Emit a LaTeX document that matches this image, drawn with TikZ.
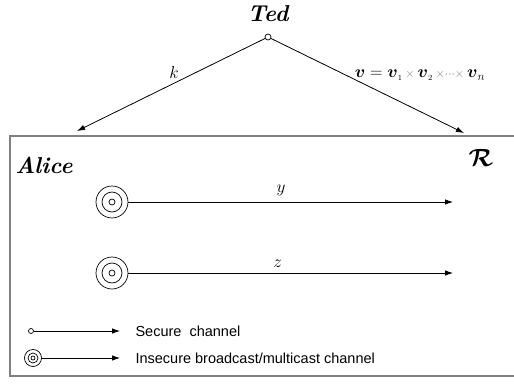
\documentclass[tikz,border=0pt]{standalone}
\usepackage{amsmath}
\usepackage{fontspec}
\newfontfamily\legendfont{Liberation Sans}
\usetikzlibrary{arrows.meta}
\tikzset{
  conn/.style={draw=black, line width=0.8pt, -{Latex[length=8pt,width=5.5pt]}},
  frame/.style={draw=gray, line width=1.6pt},
  dot/.style={circle, draw=black, line width=0.7pt, fill=white, inner sep=0pt, minimum size=6pt},
  ring/.style={circle, draw=black, line width=0.7pt, inner sep=0pt},
  lbl/.style={font=\fontsize{17}{20}\selectfont},
  actor/.style={font=\fontsize{23}{26}\selectfont\itshape\bfseries},
  legend/.style={font=\legendfont\fontsize{14.5}{17}\selectfont, anchor=west}
}
\begin{document}
\begin{tikzpicture}[x=1pt,y=-1pt]
\useasboundingbox (0,0) rectangle (514,383);
% frame (open on the right)
\draw[frame] (514,136) -- (10,136) -- (10,376) -- (514,376);
% Ted
\node[actor] (ted) at (268,14) {Ted};
\node[dot] (tedsrc) at (268,37) {};
\coordinate (alicein) at (77,131);
\coordinate (rin) at (464,133);
\draw[conn] (tedsrc) -- (alicein);
\draw[conn] (tedsrc) -- (rin);
\node[lbl] (k) at (174,72) {$k$};
\node[lbl] (v) at (420,75) {$\boldsymbol{v} = \boldsymbol{v}_{\scriptscriptstyle 1} \,{\color{gray}\scriptstyle\times}\, \boldsymbol{v}_{\scriptscriptstyle 2} \,{\color{gray}\scriptstyle\times\cdots\times}\, \boldsymbol{v}_{n}$};
% parties
\node[actor] (alice) at (44,165) {Alice};
\node[font=\fontsize{28}{30}\selectfont] (r) at (481,158) {$\boldsymbol{\mathcal{R}}$};
% y channel
\node[ring, minimum size=32pt] (y1) at (112,202) {};
\node[ring, minimum size=20pt] at (112,202) {};
\node[ring, minimum size=6pt] at (112,202) {};
\coordinate (yend) at (453,202);
\draw[conn] (y1.east) -- (yend) node[pos=0.47, lbl, above=2pt] (ylab) {$y$};
% z channel
\node[ring, minimum size=32pt] (z1) at (112,273) {};
\node[ring, minimum size=20pt] at (112,273) {};
\node[ring, minimum size=6pt] at (112,273) {};
\coordinate (zend) at (453,273);
\draw[conn] (z1.east) -- (zend) node[pos=0.46, lbl, above=2pt] (zlab) {$z$};
% legend
\node[dot, minimum size=5pt] (ls) at (31,331) {};
\coordinate (lsend) at (120,331);
\draw[conn] (ls) -- (lsend);
\node[legend] (lst) at (132,331) {Secure\ \ channel};
\node[ring, minimum size=17pt] (li) at (33,358) {};
\node[ring, minimum size=10pt] at (33,358) {};
\node[ring, minimum size=4pt] at (33,358) {};
\coordinate (liend) at (120,358);
\draw[conn] (li.east) -- (liend);
\node[legend] (lit) at (132,358) {Insecure broadcast/multicast channel};
\end{tikzpicture}
\end{document}
